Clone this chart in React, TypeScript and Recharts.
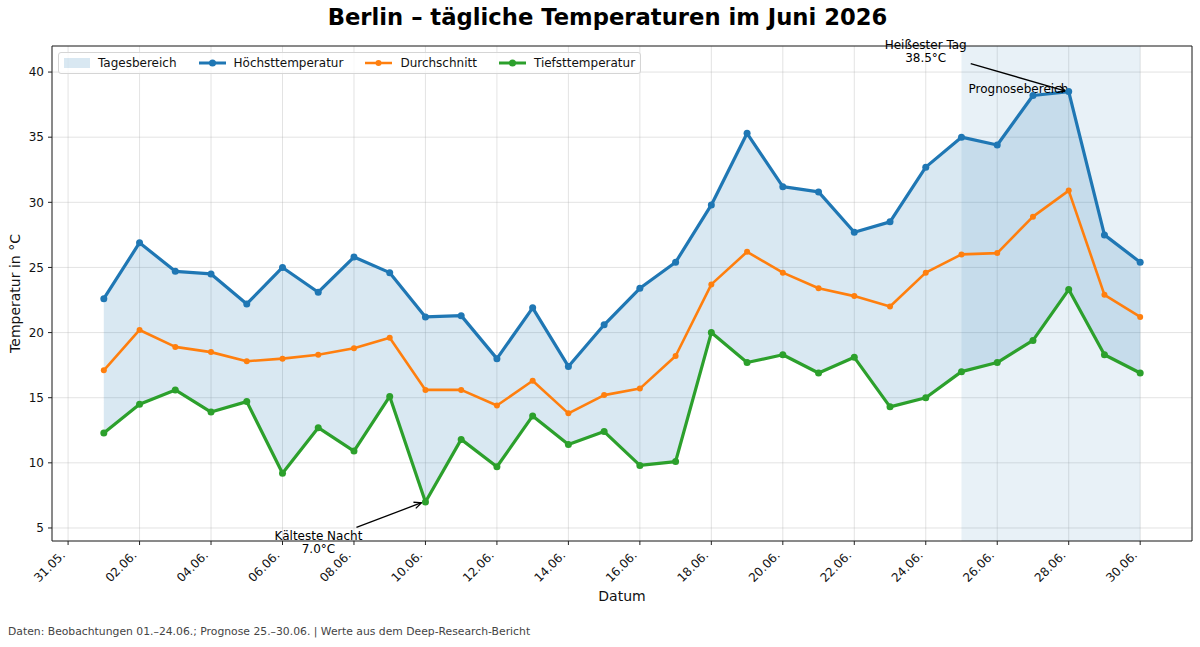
import {
  ComposedChart,
  Area,
  Line,
  XAxis,
  YAxis,
  CartesianGrid,
  ReferenceArea,
  ReferenceLine,
  ReferenceDot,
  Legend,
} from 'recharts'

const FONT = '"DejaVu Sans", Verdana, sans-serif'

const BLUE = '#1f77b4'
const ORANGE = '#ff7f0e'
const GREEN = '#2ca02c'

// Tage im Juni (x-Werte)
const DAYS = [1, 2, 3, 4, 5, 6, 7, 8, 9, 10, 11, 12, 13, 14, 15, 16, 17, 18, 19, 20, 21, 22, 23, 24, 25, 26, 27, 28, 29, 30]

const T_MAX = [22.6, 26.9, 24.7, 24.5, 22.2, 25.0, 23.1, 25.8, 24.6, 21.2, 21.3, 18.0, 21.9, 17.4, 20.6, 23.4, 25.4, 29.8, 35.3, 31.2, 30.8, 27.7, 28.5, 32.7, 35.0, 34.4, 38.2, 38.5, 27.5, 25.4]
const T_MEAN = [17.1, 20.2, 18.9, 18.5, 17.8, 18.0, 18.3, 18.8, 19.6, 15.6, 15.6, 14.4, 16.3, 13.8, 15.2, 15.7, 18.2, 23.7, 26.2, 24.6, 23.4, 22.8, 22.0, 24.6, 26.0, 26.1, 28.9, 30.9, 22.9, 21.2]
const T_MIN = [12.3, 14.5, 15.6, 13.9, 14.7, 9.2, 12.7, 10.9, 15.1, 7.0, 11.8, 9.7, 13.6, 11.4, 12.4, 9.8, 10.1, 20.0, 17.7, 18.3, 16.9, 18.1, 14.3, 15.0, 17.0, 17.7, 19.4, 23.3, 18.3, 16.9]

const X_TICKS = [0, 2, 4, 6, 8, 10, 12, 14, 16, 18, 20, 22, 24, 26, 28, 30]
const X_TICK_LABELS = ['31.05.', '02.06.', '04.06.', '06.06.', '08.06.', '10.06.', '12.06.', '14.06.', '16.06.', '18.06.', '20.06.', '22.06.', '24.06.', '26.06.', '28.06.', '30.06.']
const Y_TICKS = [5, 10, 15, 20, 25, 30, 35, 40]

const FORECAST_START = 25
const FORECAST_END = 30
const HOTTEST = { day: 28, value: 38.5 }
const COLDEST = { day: 10, value: 7.0 }

const data = DAYS.map((d, i) => ({
  day: d,
  max: T_MAX[i],
  mean: T_MEAN[i],
  min: T_MIN[i],
  range: [T_MIN[i], T_MAX[i]],
}))

function Arrow({ x1, y1, x2, y2 }: { x1: number; y1: number; x2: number; y2: number }) {
  const a = Math.atan2(y2 - y1, x2 - x1)
  const len = 8
  const spread = 0.42
  const p1 = `${x2 - len * Math.cos(a - spread)},${y2 - len * Math.sin(a - spread)}`
  const p2 = `${x2 - len * Math.cos(a + spread)},${y2 - len * Math.sin(a + spread)}`
  return (
    <g stroke="#000" strokeWidth={1.3} fill="none">
      <line x1={x1} y1={y1} x2={x2} y2={y2} />
      <polyline points={`${p1} ${x2},${y2} ${p2}`} />
    </g>
  )
}

const HotNote = (p: any) => {
  const { cx, cy } = p
  return (
    <g fontFamily={FONT} fontSize={12} fill="#000">
      <text x={cx - 143} y={cy - 47} textAnchor="middle" dominantBaseline="central">Heißester Tag</text>
      <text x={cx - 143} y={cy - 34} textAnchor="middle" dominantBaseline="central">{`${HOTTEST.value.toFixed(1)}°C`}</text>
      <Arrow x1={cx - 98} y1={cy - 28} x2={cx - 3} y2={cy - 0.5} />
    </g>
  )
}

const ColdNote = (p: any) => {
  const { cx, cy } = p
  return (
    <g fontFamily={FONT} fontSize={12} fill="#000">
      <text x={cx - 107} y={cy + 34} textAnchor="middle" dominantBaseline="central">Kälteste Nacht</text>
      <text x={cx - 107} y={cy + 47} textAnchor="middle" dominantBaseline="central">{`${COLDEST.value.toFixed(1)}°C`}</text>
      <Arrow x1={cx - 69} y1={cy + 25.5} x2={cx - 4} y2={cy + 0.8} />
    </g>
  )
}

const XTick = (p: any) => {
  const { x, y, payload } = p
  const idx = X_TICKS.indexOf(payload.value)
  return (
    <g transform={`translate(${x - 5},${y + 4}) rotate(-45)`}>
      <text x={0} y={0} textAnchor="end" dominantBaseline="central" fontSize={12} fill="#111">
        {X_TICK_LABELS[idx]}
      </text>
    </g>
  )
}

function LineHandle({ color, width, r }: { color: string; width: number; r: number }) {
  return (
    <svg width={27} height={10} style={{ marginRight: 8, display: 'block' }}>
      <line x1={0} y1={5} x2={27} y2={5} stroke={color} strokeWidth={width} />
      <circle cx={13.5} cy={5} r={r} fill={color} />
    </svg>
  )
}

function LegendBox() {
  const item = { display: 'flex', alignItems: 'center', marginRight: 22 } as const
  return (
    <div
      style={{
        display: 'flex',
        alignItems: 'center',
        height: 20,
        padding: '0 5px',
        background: 'rgba(255,255,255,0.8)',
        border: '1px solid #d5d5d5',
        borderRadius: 3,
        fontFamily: FONT,
        fontSize: 12,
        color: '#111',
        whiteSpace: 'nowrap',
      }}
    >
      <div style={item}>
        <div style={{ width: 26, height: 10, background: BLUE, opacity: 0.17, marginRight: 8 }} />
        <span>Tagesbereich</span>
      </div>
      <div style={item}>
        <LineHandle color={BLUE} width={3} r={3.5} />
        <span>Höchsttemperatur</span>
      </div>
      <div style={item}>
        <LineHandle color={ORANGE} width={2.5} r={3} />
        <span>Durchschnitt</span>
      </div>
      <div style={{ ...item, marginRight: 0 }}>
        <LineHandle color={GREEN} width={3} r={3.5} />
        <span>Tiefsttemperatur</span>
      </div>
    </div>
  )
}

export default function App() {
  return (
    <div style={{ position: 'absolute', left: 0, top: 0, width: 1200, height: 647, background: '#fff', fontFamily: FONT }}>
      <div
        style={{
          position: 'absolute',
          top: 4,
          left: 0,
          width: 1215,
          textAlign: 'center',
          fontSize: 22.7,
          fontWeight: 'bold',
          color: '#000',
        }}
      >
        Berlin – tägliche Temperaturen im Juni 2026
      </div>
      <ComposedChart
        width={1200}
        height={647}
        data={data}
        margin={{ top: 46, right: 8, bottom: 46, left: 0 }}
        style={{ fontFamily: FONT }}
      >
        <CartesianGrid stroke="#b0b0b0" strokeOpacity={0.35} />
        <ReferenceArea x1={FORECAST_START} x2={FORECAST_END} fill={BLUE} fillOpacity={0.1} stroke="none" />
        <XAxis
          dataKey="day"
          type="number"
          domain={[-0.45, 31.45]}
          allowDataOverflow
          ticks={X_TICKS}
          interval={0}
          height={60}
          tickSize={4}
          tickMargin={4}
          tick={<XTick />}
          stroke="#222"
          label={{ value: 'Datum', position: 'insideBottom', offset: 0, fontSize: 14, fill: '#111' }}
        />
        <YAxis
          type="number"
          domain={[4, 42]}
          allowDataOverflow
          ticks={Y_TICKS}
          width={52}
          tickSize={4}
          tickMargin={4}
          tick={{ fontSize: 12, fill: '#111' }}
          stroke="#222"
          label={{
            value: 'Temperatur in °C',
            angle: -90,
            position: 'insideLeft',
            offset: 15,
            fontSize: 14,
            fill: '#111',
            style: { textAnchor: 'middle' },
          }}
        />
        <ReferenceLine y={42} stroke="#222" />
        <ReferenceLine x={31.45} stroke="#222" />
        <Area
          type="linear"
          dataKey="range"
          stroke="none"
          fill={BLUE}
          fillOpacity={0.17}
          isAnimationActive={false}
          activeDot={false}
        />
        <Line
          type="linear"
          dataKey="max"
          stroke={BLUE}
          strokeWidth={3.2}
          strokeLinejoin="round"
          dot={{ r: 3.5, fill: BLUE, stroke: 'none' }}
          isAnimationActive={false}
        />
        <Line
          type="linear"
          dataKey="mean"
          stroke={ORANGE}
          strokeWidth={2.6}
          strokeLinejoin="round"
          dot={{ r: 3, fill: ORANGE, stroke: 'none' }}
          isAnimationActive={false}
        />
        <Line
          type="linear"
          dataKey="min"
          stroke={GREEN}
          strokeWidth={3.2}
          strokeLinejoin="round"
          dot={{ r: 3.5, fill: GREEN, stroke: 'none' }}
          isAnimationActive={false}
        />
        <ReferenceDot
          x={FORECAST_START}
          y={38.7}
          r={0}
          shape={(p: any) => (
            <text x={p.cx + 7} y={p.cy} dominantBaseline="central" fontSize={12} fill="#000" fontFamily={FONT}>
              Prognosebereich
            </text>
          )}
        />
        <ReferenceDot x={HOTTEST.day} y={HOTTEST.value} r={0} shape={HotNote} />
        <ReferenceDot x={COLDEST.day} y={COLDEST.value} r={0} shape={ColdNote} />
        <Legend
          layout="horizontal"
          verticalAlign="middle"
          align="center"
          content={() => <LegendBox />}
          wrapperStyle={{ top: 52, left: 58, width: 'auto', height: 'auto' }}
        />
      </ComposedChart>
      <div style={{ position: 'absolute', left: 8, top: 625, fontSize: 10.8, color: '#444', whiteSpace: 'nowrap' }}>
        Daten: Beobachtungen 01.–24.06.; Prognose 25.–30.06. | Werte aus dem Deep-Research-Bericht
      </div>
    </div>
  )
}
